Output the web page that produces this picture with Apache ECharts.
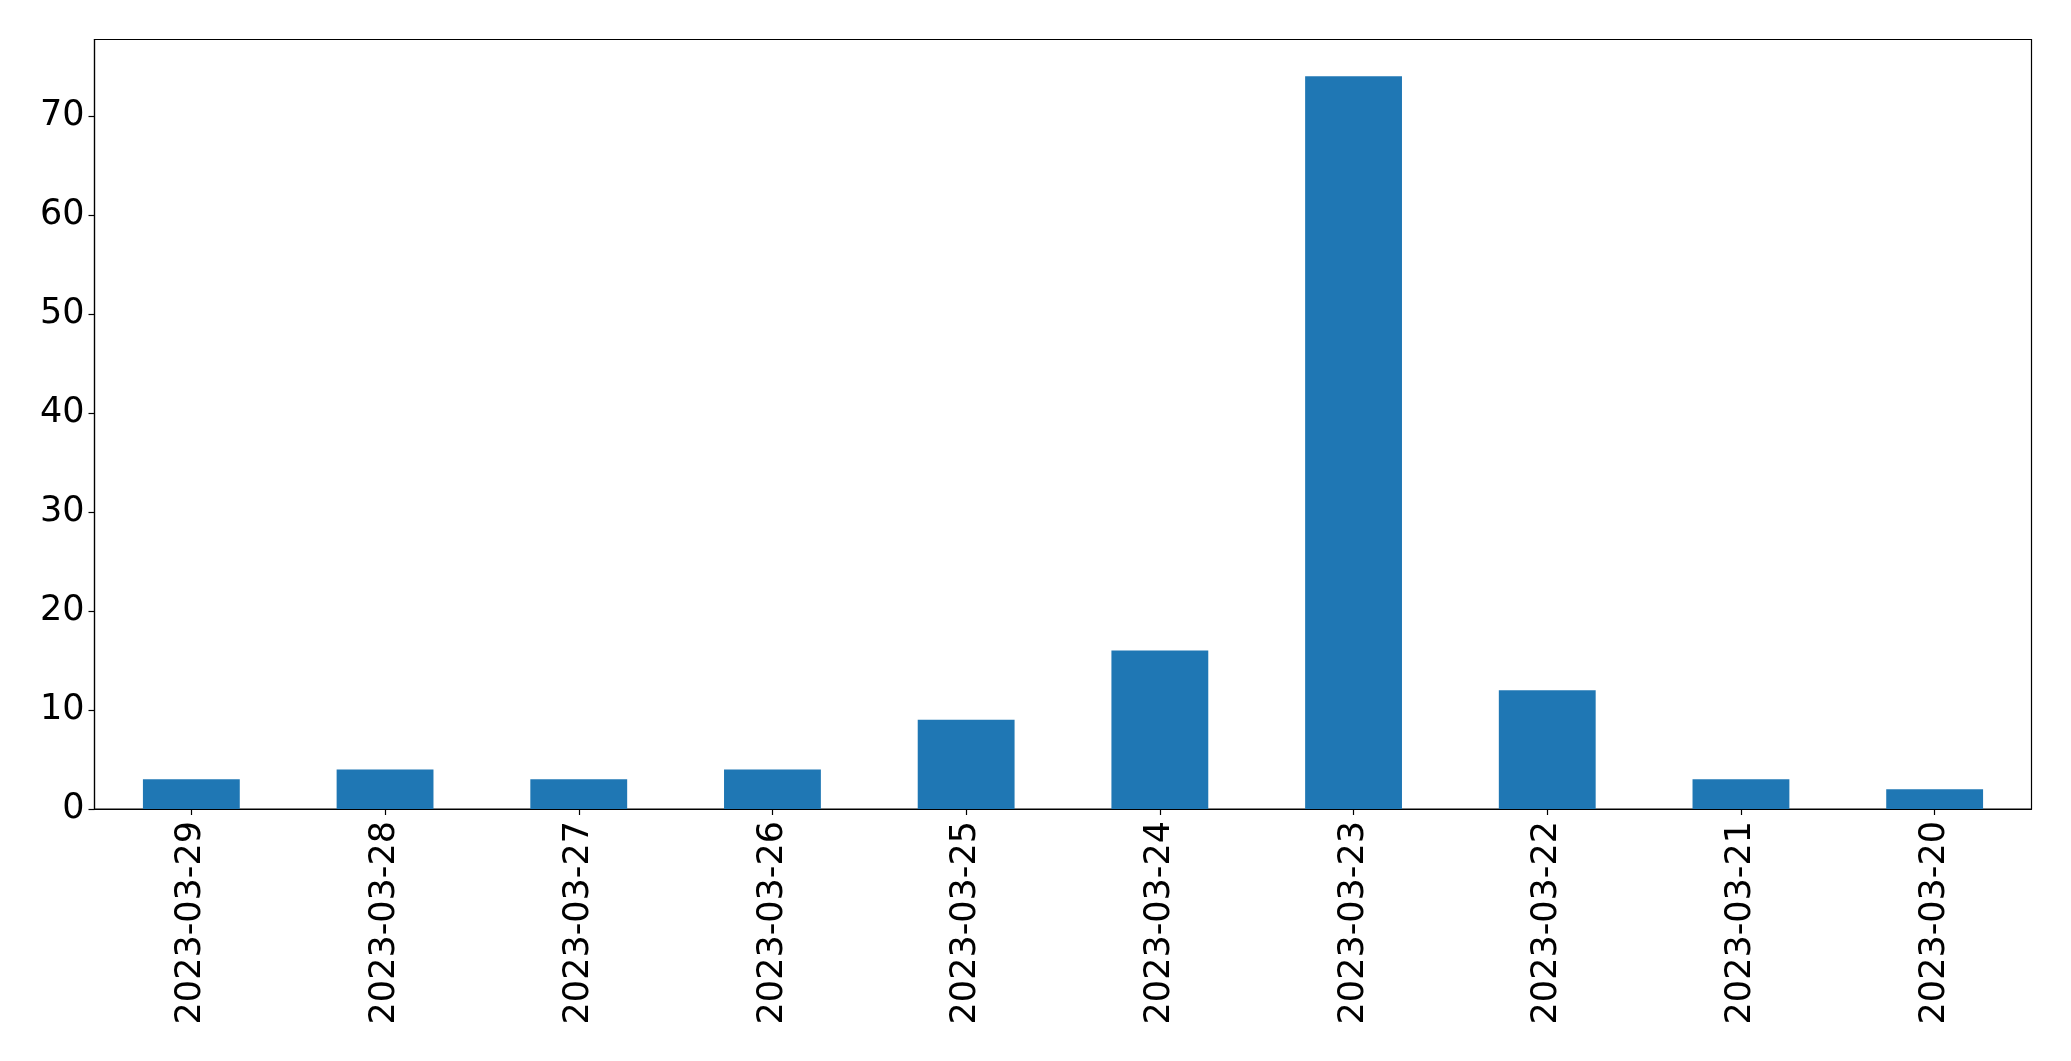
<!DOCTYPE html>
<html>
<head>
<meta charset="utf-8">
<script src="https://cdn.jsdelivr.net/npm/echarts@6/dist/echarts.min.js"></script>
<style>
html,body{margin:0;padding:0;background:#fff;}
#chart{width:2071px;height:1061px;}
</style>
</head>
<body>
<div id="chart"></div>
<script>
const categories = ['2023-03-29','2023-03-28','2023-03-27','2023-03-26','2023-03-25','2023-03-24','2023-03-23','2023-03-22','2023-03-21','2023-03-20'];
const values = [3, 4, 3, 4, 9, 16, 74, 12, 3, 2];
const yTicks = [0, 10, 20, 30, 40, 50, 60, 70];

const chart = echarts.init(document.getElementById('chart'), null, {renderer: 'canvas'});
const font = 'DejaVu Sans';
chart.setOption({
  animation: false,
  backgroundColor: '#ffffff',
  grid: {
    left: 94.5, right: 39.5, top: 39.5, bottom: 252,
    show: true, borderColor: '#000', borderWidth: 1.2, backgroundColor: 'transparent'
  },
  xAxis: {
    type: 'category',
    data: categories,
    axisLine: {show: true, lineStyle: {color: '#000', width: 1.2}},
    axisTick: {show: true, inside: false, alignWithLabel: true, length: 6, lineStyle: {color: '#000', width: 1.2}},
    axisLabel: {rotate: 90, color: '#000', fontSize: 35, fontFamily: font, margin: 12, interval: 0}
  },
  yAxis: {
    type: 'value',
    min: 0, max: 77.7, interval: 10,
    splitLine: {show: false},
    axisLine: {show: true, lineStyle: {color: '#000', width: 1.2}},
    axisTick: {show: true, inside: false, length: 6, lineStyle: {color: '#000', width: 1.2}, customValues: yTicks},
    axisLabel: {color: '#000', fontSize: 35, fontFamily: font, margin: 10, customValues: yTicks}
  },
  series: [{
    type: 'bar',
    data: values,
    barWidth: '50%',
    itemStyle: {color: '#1f77b4'}
  }]
});
</script>
</body>
</html>
